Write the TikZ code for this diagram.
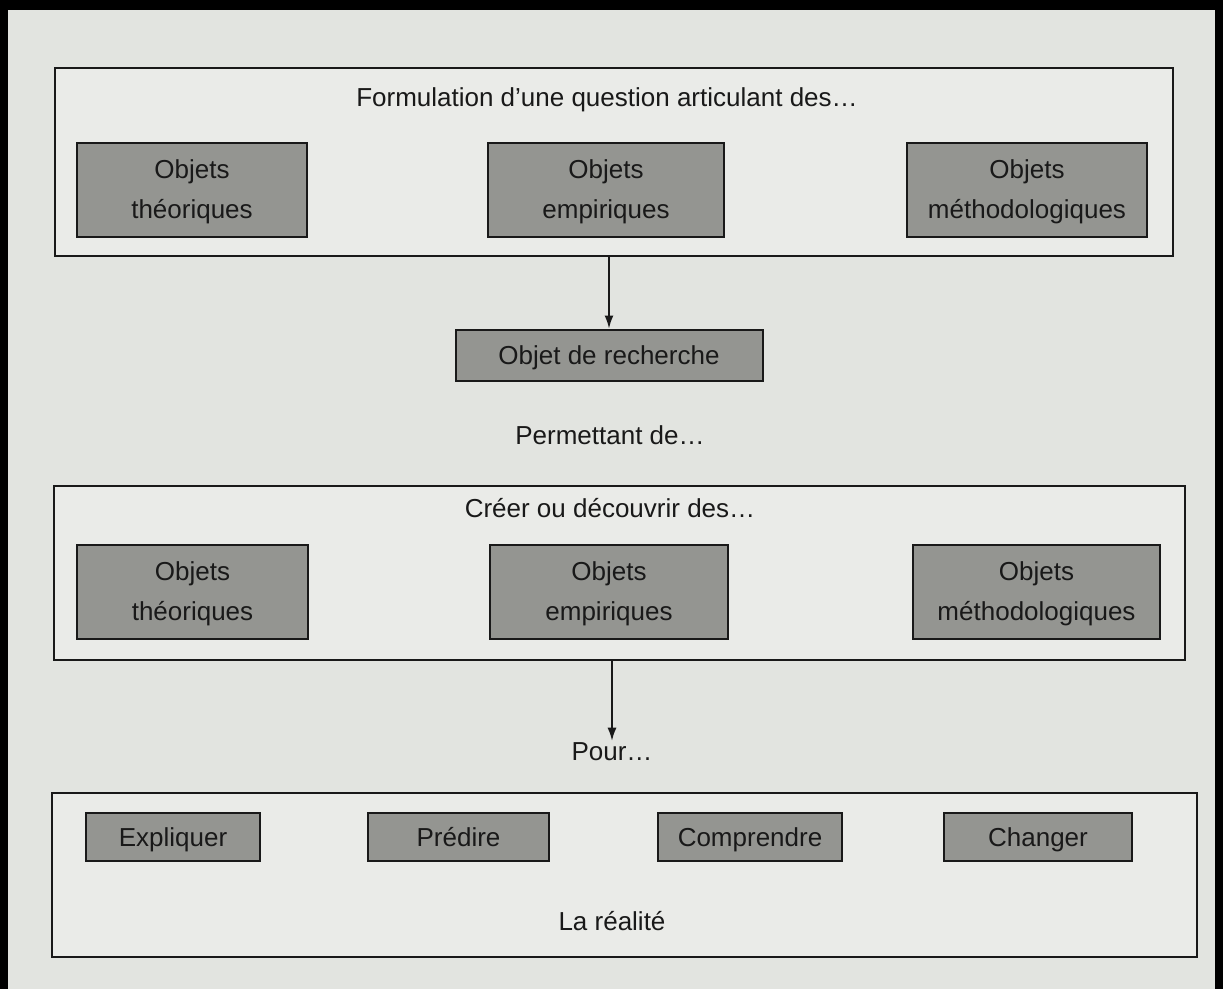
\documentclass[tikz,border=0pt]{standalone}
\usepackage{fontspec}
\setmainfont{Liberation Sans}
\usetikzlibrary{arrows.meta}
\definecolor{paper}{RGB}{226,228,224}
\definecolor{panel}{RGB}{234,235,232}
\definecolor{boxgray}{RGB}{148,149,145}
\definecolor{ink}{RGB}{25,25,25}
\begin{document}
\begin{tikzpicture}[x=1pt,y=-1pt,
  container/.style={draw=ink, line width=2pt, fill=panel, inner sep=0pt},
  objbox/.style={draw=ink, line width=2pt, fill=boxgray, inner sep=0pt, align=center,
    font=\fontsize{26}{40}\selectfont, text=ink, minimum height=94pt, text depth=1pt},
  actbox/.style={draw=ink, line width=2pt, fill=boxgray, inner sep=0pt,
    font=\fontsize{26}{32}\selectfont, text=ink, minimum height=48pt,
    text height=23pt, text depth=5pt},
  lbl/.style={font=\fontsize{26}{32}\selectfont, text=ink, inner sep=2pt},
  arr/.style={draw=ink, line width=1.6pt, -{Latex[length=13pt,width=9pt]}}]
\fill[black] (0,0) rectangle (1223,989);
\fill[paper] (8,10) rectangle (1215,989);
\useasboundingbox (0,0) rectangle (1223,989);

% top panel
\node[container, minimum width=1118pt, minimum height=188pt] (top) at (614,162) {};
\node[lbl] (t1) at (607,100) {Formulation d’une question articulant des…};
\node[objbox, minimum width=230pt] (tt1) at (192,190) {Objets\\théoriques};
\node[objbox, minimum width=236pt] (te1) at (606,190) {Objets\\empiriques};
\node[objbox, minimum width=240pt] (tm1) at (1027,190) {Objets\\méthodologiques};

\node[actbox, minimum width=307pt, minimum height=51pt] (rech) at (609,355) {Objet de recherche};
\draw[arr] (top.south -| rech.north) -- (rech.north);

\node[lbl] (perm) at (610,435) {Permettant de…};

% middle panel
\node[container, minimum width=1131pt, minimum height=174pt] (mid) at (619.5,573) {};
\node[lbl] (t2) at (610,508) {Créer ou découvrir des…};
\node[objbox, minimum width=231pt] (tt2) at (192.5,592) {Objets\\théoriques};
\node[objbox, minimum width=238pt] (te2) at (609,592) {Objets\\empiriques};
\node[objbox, minimum width=247pt] (tm2) at (1036.5,592) {Objets\\méthodologiques};

\node[lbl] (pour) at (612,752) {Pour…};
\draw[arr] (mid.south -| pour.north) -- (pour.north);

% bottom panel
\node[container, minimum width=1145pt, minimum height=164pt] (bot) at (624.5,875) {};
\node[actbox, minimum width=174pt] (expl) at (173,837) {Expliquer};
\node[actbox, minimum width=181pt] (pred) at (458.5,837) {Prédire};
\node[actbox, minimum width=184pt] (comp) at (750,837) {Comprendre};
\node[actbox, minimum width=188pt] (chan) at (1038,837) {Changer};
\node[lbl] (real) at (612,921) {La réalité};
\end{tikzpicture}
\end{document}
